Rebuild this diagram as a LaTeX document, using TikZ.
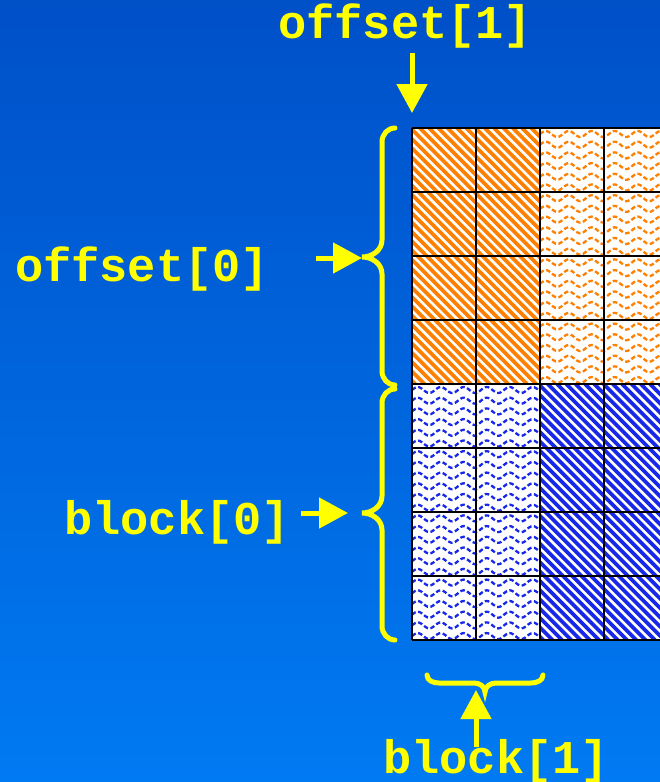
\documentclass[tikz,border=0pt]{standalone}
\usepackage{fontspec}
\setmonofont{Liberation Mono}
\usetikzlibrary{arrows.meta}
\definecolor{bgtop}{RGB}{0,80,200}
\definecolor{bgbot}{RGB}{0,122,242}
\definecolor{myyellow}{RGB}{255,255,0}
\definecolor{myorange}{RGB}{255,128,0}
\definecolor{myblue}{RGB}{24,40,232}
\tikzset{
  lbl/.style={font=\fontsize{47}{47}\selectfont\ttfamily\bfseries, text=myyellow, inner sep=0pt, anchor=base west},
  arr/.style={draw=myyellow, line width=5pt, -{Triangle[length=29pt,width=30pt]}},
  bracepath/.style={draw=myyellow, line width=5pt, line cap=round},
  stripe/.style={line width=3.7pt},
  wave/.style={line width=2.3pt, dash pattern=on 4.5pt off 2.5pt},
  gridline/.style={draw=black, line width=2.2pt},
}
\begin{document}
\begin{tikzpicture}[x=1pt,y=1pt]
\useasboundingbox (0,0) rectangle (660,-782);
\clip (0,0) rectangle (660,-782);
\shade[top color=bgtop, bottom color=bgbot] (0,0) rectangle (660,-782);

% cells background
\fill[white] (412,-128) rectangle (668,-640);

% orange stripes (top-left block)
\begin{scope}
  \clip (412,-128) rectangle (540,-384);
  \foreach \i in {0,...,42}
    \draw[stripe, myorange] ({150+9.3*\i},-128) -- ++(256,-256);
\end{scope}
% blue stripes (bottom-right block)
\begin{scope}
  \clip (540,-384) rectangle (668,-640);
  \foreach \i in {0,...,42}
    \draw[stripe, myblue] ({278+9.3*\i},-384) -- ++(256,-256);
\end{scope}
% orange waves (top-right block)
\begin{scope}
  \clip (540,-128) rectangle (668,-384);
  \foreach \k in {0,...,23}
    \draw[wave, myorange] plot[domain=0:128, samples=90, smooth] ({540+\x}, {-134-10.7*\k+3*sin(\x/23*360)});
\end{scope}
% blue waves (bottom-left block)
\begin{scope}
  \clip (412,-384) rectangle (540,-640);
  \foreach \k in {0,...,23}
    \draw[wave, myblue] plot[domain=0:128, samples=90, smooth] ({412+\x}, {-390-10.7*\k+3*sin(\x/23*360)});
\end{scope}

% grid
\foreach \c in {412,476,540,604,668}
  \draw[gridline] (\c,-128) -- (\c,-640);
\foreach \r in {128,192,256,320,384,448,512,576,640}
  \draw[gridline] (412,-\r) -- (668,-\r);

% braces
\draw[bracepath] (395,-128) to[out=180,in=90] (382,-142) -- (382,-240)
  to[out=-90,in=0] (362,-257) to[out=0,in=90] (382,-274) -- (382,-371)
  to[out=-90,in=180] (395,-385);
\draw[bracepath] (395,-389) to[out=180,in=90] (382,-403) -- (382,-496)
  to[out=-90,in=0] (362,-513) to[out=0,in=90] (382,-530) -- (382,-626)
  to[out=-90,in=180] (395,-640);
\draw[bracepath] (427,-675) to[out=-90,in=180] (439,-683) -- (474,-683)
  to[out=0,in=90] (485,-692) to[out=90,in=180] (496,-683) -- (531,-683)
  to[out=0,in=-90] (543,-675);

% labels
\node[lbl] (o1) at (278,-38) {offset[1]};
\node[lbl] (o0) at (15,-281) {offset[0]};
\node[lbl] (b0) at (64,-534) {block[0]};
\node[lbl] (b1) at (383,-773) {block[1]};

% arrow targets
\coordinate (o1tip) at (412,-113);
\coordinate (o0tip) at (362,-258);
\coordinate (b0tip) at (348,-513);
\coordinate (b1tip) at (476,-690);

\draw[arr, shorten <=5pt] (o1.south -| o1tip) -- (o1tip);
\draw[arr] (o0.east |- o0tip) ++(47,0) -- (o0tip);
\draw[arr] (b0.east |- b0tip) ++(11,0) -- (b0tip);
\draw[arr, shorten <=-8pt] (b1.north -| b1tip) -- (b1tip);
\end{tikzpicture}
\end{document}
